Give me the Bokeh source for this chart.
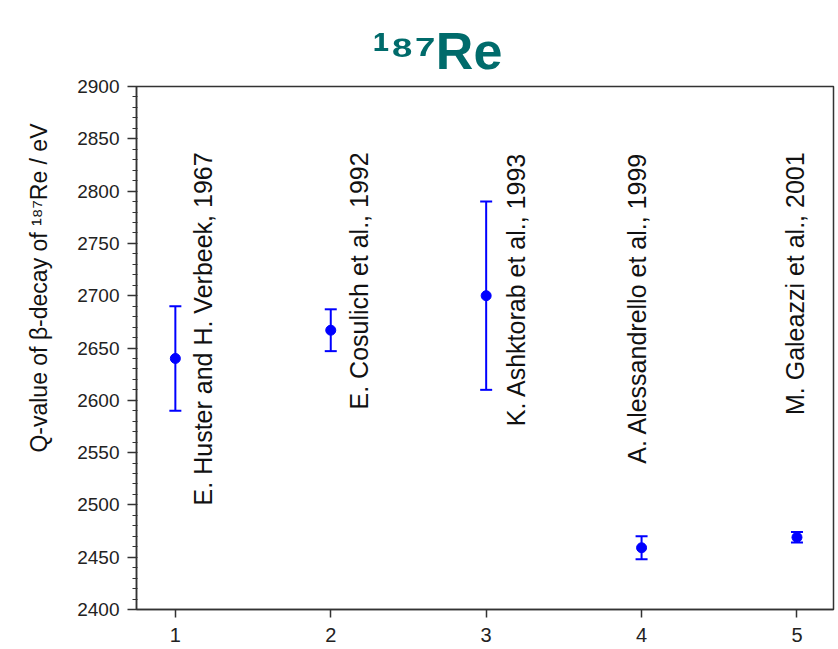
import math
from bokeh.plotting import figure
from bokeh.models import (ColumnDataSource, Whisker, TeeHead, Range1d,
                          FixedTicker, SingleIntervalTicker, Title)
from bokeh.core.properties import value
from bokeh.embed import file_html
from bokeh.resources import INLINE

# ---- data ----
experiment = [1, 2, 3, 4, 5]
q_value = [2640, 2667, 2700, 2459, 2469]
q_error = [50, 20, 90, 11, 5]
labels = [
    "E. Huster and H. Verbeek, 1967",
    "E. Cosulich et al., 1992",
    "K. Ashktorab et al., 1993",
    "A. Alessandrello et al., 1999",
    "M. Galeazzi et al., 2001",
]
label_offset = [0.18, 0.18, 0.19, -0.03, -0.01]
x_ticks = [1, 2, 3, 4, 5]

FONT = "Liberation Sans"
BLUE = "#0000FF"
TEAL = "#006B6B"

src = ColumnDataSource(dict(
    x=experiment,
    y=q_value,
    lower=[v - e for v, e in zip(q_value, q_error)],
    upper=[v + e for v, e in zip(q_value, q_error)],
))
lab_src = ColumnDataSource(dict(
    x=[e + o for e, o in zip(experiment, label_offset)],
    y=[2837] * len(labels),
    text=labels,
))

p = figure(
    width=838, height=649,
    frame_width=697, frame_height=523,
    min_border_left=136, min_border_right=5, min_border_top=86, min_border_bottom=40,
    x_range=Range1d(0.75, 5.235), y_range=Range1d(2400, 2900),
    output_backend="svg", toolbar_location=None,
)
p.title = Title(text="¹⁸⁷Re", align="left", offset=236, standoff=10,
                vertical_align="top",
                text_font=FONT, text_font_size="52px", text_font_style="bold",
                text_color=TEAL)
p.grid.visible = False
p.background_fill_color = "white"
p.border_fill_color = "white"
p.outline_line_color = "#333333"
p.outline_line_width = 1.5

p.xaxis.ticker = FixedTicker(ticks=x_ticks)
p.xaxis.major_label_text_font = FONT
p.xaxis.major_label_text_font_size = "20px"
p.xaxis.major_label_text_color = "#222222"
p.xaxis.major_tick_out = 8
p.xaxis.major_tick_in = 0
p.xaxis.minor_tick_line_color = None
p.xaxis.axis_line_color = "#333333"
p.xaxis.axis_line_width = 1.5
p.xaxis.major_tick_line_color = "#333333"
p.xaxis.major_tick_line_width = 1.5
p.xaxis.major_label_standoff = 10

p.yaxis.ticker = SingleIntervalTicker(interval=50, num_minor_ticks=5)
p.yaxis.major_label_text_font = FONT
p.yaxis.major_label_text_font_size = "19px"
p.yaxis.major_label_text_color = "#222222"
p.yaxis.major_tick_out = 9
p.yaxis.major_tick_in = 0
p.yaxis.minor_tick_out = 4
p.yaxis.minor_tick_in = 1
p.yaxis.axis_line_color = "#333333"
p.yaxis.axis_line_width = 1.5
p.yaxis.major_tick_line_color = "#333333"
p.yaxis.major_tick_line_width = 1.5
p.yaxis.minor_tick_line_color = "#333333"
p.yaxis.minor_tick_line_width = 1.2
p.yaxis.major_label_standoff = 8

# y-axis title (top end 37 px below the frame top, like the reference)
p.add_layout(Title(text="Q-value of β-decay of ¹⁸⁷Re / eV", align="right",
                   offset=37, standoff=46, text_font=FONT, text_font_size="23px",
                   text_font_style="normal", text_color="#111111"), "left")

wh = Whisker(source=src, base="x", lower="lower", upper="upper",
             line_color=BLUE, line_width=2,
             upper_head=TeeHead(size=12, line_color=BLUE, line_width=2),
             lower_head=TeeHead(size=12, line_color=BLUE, line_width=2))
p.add_layout(wh)
p.scatter("x", "y", source=src, size=10, color=BLUE)

p.text("x", "y", text="text", source=lab_src, angle=math.pi / 2,
       text_align="right", text_baseline="middle",
       text_font=value(FONT), text_font_size="25px", text_color="#111111")

open("out.html", "w").write(file_html(p, INLINE))
